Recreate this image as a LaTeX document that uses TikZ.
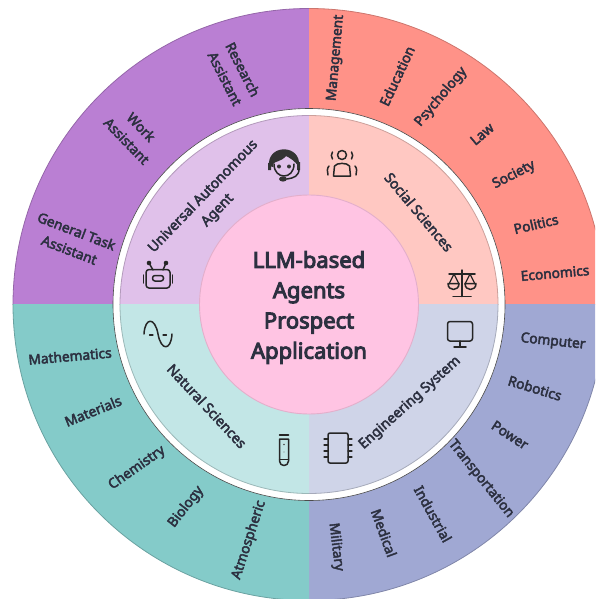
\documentclass[tikz,border=0pt]{standalone}
\usepackage{fontspec}
\setmainfont{Noto Sans}[FakeBold=3.2]
\newfontfamily\titlefont{Noto Sans}[FakeBold=4.5]
\definecolor{ink}{HTML}{2C3040}
\definecolor{purpleO}{HTML}{BA7FD3}
\definecolor{redO}{HTML}{FF9288}
\definecolor{blueO}{HTML}{A0A8D3}
\definecolor{tealO}{HTML}{84CBC9}
\definecolor{purpleI}{HTML}{E0C1EA}
\definecolor{redI}{HTML}{FFC8C2}
\definecolor{blueI}{HTML}{CFD4E8}
\definecolor{tealI}{HTML}{C2E6E6}
\definecolor{hub}{HTML}{FFC4E3}
\definecolor{hubedge}{HTML}{E3AFCB}
\tikzset{
  outerlab/.style={text=ink,font=\fontsize{13.7}{20}\selectfont,align=center,inner sep=0pt},
  innerlab/.style={text=ink,font=\fontsize{14}{20}\selectfont,align=center,inner sep=0pt},
  hubtext/.style={text=ink,font=\titlefont\fontsize{22}{30.3}\selectfont,align=center,inner sep=0pt},
  icon/.style={draw=black!85,line width=1.5pt,line cap=round,line join=round,fill=none},
}
\newcommand{\quadrant}[6]{%
  \begin{scope}
    \clip (#1,#2) rectangle (#3,#4);
    \fill[#5,draw=#5!80!black,line width=0.8pt] (309,304.5) circle[radius=#6 pt];
  \end{scope}}
\begin{document}
\begin{tikzpicture}[x=1pt,y=-1pt]
\useasboundingbox (0,0) rectangle (595,599);
\clip (0,0) rectangle (595,599);
% outer ring
\quadrant{0}{0}{309}{304.5}{purpleO}{296}
\quadrant{309}{0}{620}{304.5}{redO}{296}
\quadrant{309}{304.5}{620}{620}{blueO}{296}
\quadrant{0}{304.5}{309}{620}{tealO}{296}
% white ring
\fill[white,draw=black!70,line width=0.6pt] (309,304.5) circle[radius=196pt];
% inner ring
\quadrant{100}{100}{309}{304.5}{purpleI}{189}
\quadrant{309}{100}{520}{304.5}{redI}{189}
\quadrant{309}{304.5}{520}{520}{blueI}{189}
\quadrant{100}{304.5}{309}{520}{tealI}{189}
% hub
\node[circle,fill=hub,draw=hubedge,line width=0.9pt,minimum size=219pt,inner sep=0pt] (hubc) at (309,304.5) {};
\node[hubtext] (hubt) at (309,307.5) {LLM-based\\Agents\\Prospect\\Application};
% outer labels
\node[outerlab,rotate=85] (l1) at (336,58) {Management};
\node[outerlab,rotate=65] (l2) at (397,76) {Education};
\node[outerlab,rotate=50] (l3) at (441,97) {Psychology};
\node[outerlab,rotate=40] (l4) at (482,134) {Law};
\node[outerlab,rotate=27] (l5) at (514,175) {Society};
\node[outerlab,rotate=13] (l6) at (536,224) {Politics};
\node[outerlab,rotate=5] (l7) at (555,273) {Economics};
\node[outerlab,rotate=-6] (l8) at (553,342) {Computer};
\node[outerlab,rotate=-17] (l9) at (535,388) {Robotics};
\node[outerlab,rotate=-33] (l10) at (510,435) {Power};
\node[outerlab,rotate=-51] (l11) at (481,479) {Transportation};
\node[outerlab,rotate=-61] (l12) at (433,514) {Industrial};
\node[outerlab,rotate=-70] (l13) at (384,533) {Medical};
\node[outerlab,rotate=-83] (l14) at (336,547) {Military};
\node[outerlab,rotate=72] (l15) at (249,540) {Atmospheric};
\node[outerlab,rotate=52] (l16) at (186,507) {Biology};
\node[outerlab,rotate=35] (l17) at (137,468) {Chemistry};
\node[outerlab,rotate=22] (l18) at (93,411) {Materials};
\node[outerlab,rotate=5] (l19) at (70,356) {Mathematics};
\node[outerlab,rotate=-21] (l20) at (73,240.5) {General Task\\Assistant};
\node[outerlab,rotate=-46] (l21) at (134,134) {Work\\Assistant};
\node[outerlab,rotate=-63] (l22) at (234,74) {Research\\Assistant};
% inner labels
\node[innerlab,rotate=46] (i1) at (210.5,203.5) {Universal Autonomous\\Agent};
\node[innerlab,rotate=-50] (i2) at (419,212) {Social Sciences};
\node[innerlab,rotate=42] (i3) at (410,403) {Engineering System};
\node[innerlab,rotate=-47] (i4) at (207,406) {Natural Sciences};
% icon: support head
\begin{scope}[shift={(284,164)}]
  \fill[black!80] (-15,2) .. controls (-17,-19) and (13,-20) .. (15,-2) -- (15,3) .. controls (11,-3) and (6,-6) .. (2,-8) .. controls (-3,-2) and (-9,-3) .. (-11,0) -- (-11,3) -- cycle;
  \draw[icon] (-10,0) .. controls (-10,16) and (10,16) .. (10,0);
  \fill[black!80] (-5,2.5) circle[radius=2pt] (5,2.5) circle[radius=2pt];
  \fill[black!80] (-16,-1) rectangle (-13,6) (13,-2) rectangle (16,6);
  \draw[icon] (15,5) .. controls (15,12) and (10,14) .. (3,15);
  \fill[black!80] (-1,15) ellipse[x radius=4pt,y radius=2.6pt];
\end{scope}
% icon: robot
\begin{scope}[shift={(158,278)}]
  \draw[icon,rounded corners=3pt] (-12,-8.5) rectangle (12,10);
  \draw[icon,rounded corners=2.5pt] (-5.5,-2.5) rectangle (5.5,3);
  \draw[icon] (-14.5,-3) -- (-14.5,5) (14.5,-3) -- (14.5,5);
  \draw[icon] (-5,-8) -- (-9,-15) (5,-8) -- (8,-15);
  \fill[black!85] (-9,-15) circle[radius=2.3pt] (8,-15) circle[radius=2.3pt];
\end{scope}
% icon: person with waves
\begin{scope}[shift={(342,163)}]
  \draw[icon] (0,-8) circle[radius=4.5pt];
  \draw[icon] (-8.5,13) -- (-7.5,3) .. controls (-5,-0.5) and (5,-0.5) .. (7.5,3) -- (8.5,13) -- cycle;
  \draw[icon] (-9.5,-11) .. controls (-11,-8) and (-11,-7) .. (-9.5,-4);
  \draw[icon] (9.5,-11) .. controls (11,-8) and (11,-7) .. (9.5,-4);
  \draw[icon] (-13,3) .. controls (-15,5) and (-15,9) .. (-14,12);
  \draw[icon] (13,3) .. controls (15,5) and (15,9) .. (14,12);
\end{scope}
% icon: scales
\begin{scope}[shift={(462,283)}]
  \draw[icon] (0,-13) -- (0,13.5) (-9,13.5) -- (9,13.5) (-13,-9) -- (13,-9);
  \draw[icon,line width=1.3pt] (-8,-9) -- (-13,1) (-8,-9) -- (-3,1) (8,-9) -- (13,1) (8,-9) -- (3,1);
  \draw[icon] (-14,0.5) -- (-3,0.5) .. controls (-3,8.5) and (-14,8.5) .. (-14,0.5) -- cycle;
  \draw[icon] (14,0.5) -- (3,0.5) .. controls (3,8.5) and (14,8.5) .. (14,0.5) -- cycle;
\end{scope}
% icon: monitor
\begin{scope}[shift={(460,333)}]
  \draw[icon,rounded corners=2.5pt] (-12.5,-11.5) rectangle (12.5,8);
  \draw[icon] (0,8) -- (0,14) (-6,14) -- (6,14);
\end{scope}
% icon: chip
\begin{scope}[shift={(338,448)}]
  \draw[icon,rounded corners=2pt] (-10,-15) rectangle (10,15);
  \foreach \yy in {-9,-3,3,9} {\draw[icon,line width=1.3pt] (-14,\yy) -- (-10,\yy) (10,\yy) -- (14,\yy);}
\end{scope}
% icon: test tube
\begin{scope}[shift={(284,450)}]
  \draw[icon] (-4.5,-15) -- (4.5,-15);
  \draw[icon] (-4.5,-11) -- (-4.5,11) .. controls (-4.5,17) and (4.5,17) .. (4.5,11) -- (4.5,-11) -- cycle;
  \draw[icon] (-4.5,9.5) -- (4.5,9.5);
  \fill[black!70] (0,-5.5) circle[radius=0.9pt];
  \fill[black!50] (0,2) circle[radius=0.7pt];
\end{scope}
% icon: wave
\begin{scope}[shift={(158,334)}]
  \draw[icon] (-14,0) .. controls (-13,-17) and (-3,-17) .. (0,0) .. controls (3,17) and (13,17) .. (14,0);
  \draw[icon,line width=1.2pt] (-8.5,1) -- (-5,1) (5,1) -- (8.5,1);
\end{scope}
\end{tikzpicture}
\end{document}
